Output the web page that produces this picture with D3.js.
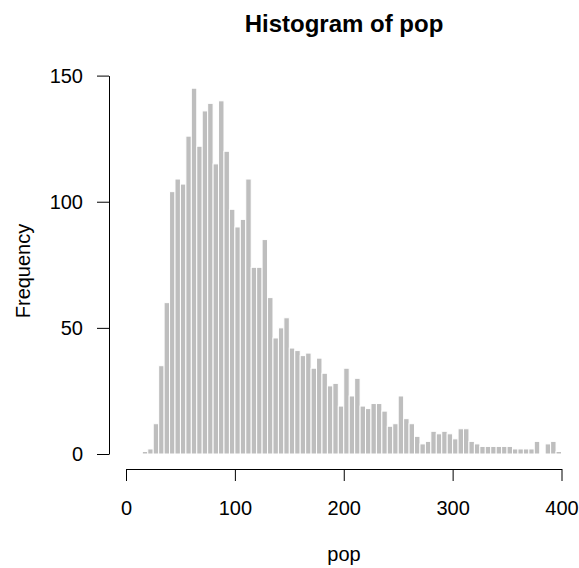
<!DOCTYPE html>
<html>
<head>
<meta charset="utf-8">
<script src="https://cdn.jsdelivr.net/npm/d3@7"></script>
<style>
    html, body { margin: 0; padding: 0; background: #fff; }
    svg { display: block; font-family: "Liberation Sans", Arial, Helvetica, sans-serif; }
</style>
</head>
<body>
<svg id="chart" width="579" height="568"></svg>
<script>
// histogram breaks (bin edges) and counts
var breaks = [0, 5, 10, 15, 20, 25, 30, 35, 40, 45, 50, 55, 60, 65, 70, 75, 80, 85, 90, 95,
    100, 105, 110, 115, 120, 125, 130, 135, 140, 145, 150, 155, 160, 165, 170, 175, 180, 185, 190, 195,
    200, 205, 210, 215, 220, 225, 230, 235, 240, 245, 250, 255, 260, 265, 270, 275, 280, 285, 290, 295,
    300, 305, 310, 315, 320, 325, 330, 335, 340, 345, 350, 355, 360, 365, 370, 375, 380, 385, 390, 395, 400];

var counts = [0, 0, 0, 1, 2, 12, 35, 60, 104, 109, 107, 126, 145, 122, 136, 139, 115, 140, 120, 97,
    90, 93, 109, 74, 74, 85, 62, 46, 50, 54, 42, 41, 39, 40, 34, 38, 32, 27, 28, 19,
    34, 23, 30, 19, 18, 20, 20, 17, 11, 12, 23, 14, 12, 7, 4, 5, 9, 8, 9, 8,
    6, 10, 10, 5, 4, 3, 3, 3, 3, 3, 3, 2, 2, 2, 2, 5, 0, 4, 5, 1];

var xTicks = [0, 100, 200, 300, 400];
var yTicks = [0, 50, 100, 150];

var title = "Histogram of pop",
    xLabel = "pop",
    yLabel = "Frequency";

var svg = d3.select("#chart"),
    barFill = "#bebebe",
    axisY = 469,          // x axis sits a bit below the zero line, like R does
    axisX = 109;

var x = d3.scaleLinear().domain([0, 400]).range([126, 561.5]),
    y = d3.scaleLinear().domain([0, 150]).range([454, 75.6]);

var bins = counts.map(function(c, i) {
    return {x0: breaks[i], x1: breaks[i + 1], count: c};
});

svg.append("g")
    .selectAll("rect")
    .data(bins)
    .enter().append("rect")
        .attr("x", function(d) { return x(d.x0); })
        .attr("y", function(d) { return y(d.count); })
        .attr("width", function(d) { return x(d.x1) - x(d.x0); })
        .attr("height", function(d) { return y(0) - y(d.count); })
        .attr("fill", barFill)
        .attr("stroke", "#fff")
        .attr("stroke-width", 1);

var xAxis = svg.append("g")
    .attr("transform", "translate(0," + axisY + ")")
    .call(d3.axisBottom(x).tickValues(xTicks).tickSize(12).tickSizeOuter(0).tickPadding(20));

var yAxis = svg.append("g")
    .attr("transform", "translate(" + axisX + ",0)")
    .call(d3.axisLeft(y).tickValues(yTicks).tickSize(12).tickSizeOuter(0).tickPadding(14));

[xAxis, yAxis].forEach(function(g) {
    g.attr("font-family", null).attr("font-size", null);
    g.selectAll("text").style("font-size", "20px").attr("fill", "#000");
    g.selectAll("line, path").attr("stroke", "#000");
});

svg.append("text")
    .attr("x", 344)
    .attr("y", 32)
    .attr("text-anchor", "middle")
    .style("font-size", "24px")
    .style("font-weight", "bold")
    .text(title);

svg.append("text")
    .attr("x", 344)
    .attr("y", 561)
    .attr("text-anchor", "middle")
    .style("font-size", "20px")
    .text(xLabel);

svg.append("text")
    .attr("transform", "translate(30,271) rotate(-90)")
    .attr("text-anchor", "middle")
    .style("font-size", "20px")
    .text(yLabel);
</script>
</body>
</html>
